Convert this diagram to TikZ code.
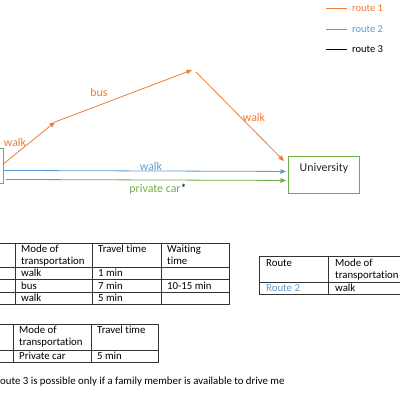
\documentclass[tikz,border=0pt]{standalone}
\usepackage{fontspec}
\setmainfont[Ligatures=NoCommon]{Carlito}
\usetikzlibrary{arrows.meta}
\definecolor{rone}{HTML}{ED7D31}
\definecolor{rtwo}{HTML}{5B9BD5}
\definecolor{cgreen}{HTML}{70AD47}
\begin{document}
\begin{tikzpicture}[x=1pt,y=-1pt,
  every node/.style={font=\fontsize{11.9}{14}\selectfont},
  place/.style={draw=cgreen,line width=0.9pt,minimum width=71pt,minimum height=37pt,anchor=north west},
  e/.style={-{Triangle[length=5.5pt,width=4.5pt]},line width=0.8pt},
  lbl/.style={inner sep=0pt},
  cell/.style={anchor=base west,inner sep=0pt,align=left,font=\fontsize{10.8}{12}\selectfont},
  tab/.style={draw=black!80,line width=0.6pt}]
 \useasboundingbox (0,0) rectangle (400,400);
 \clip (0,0) rectangle (400,400);
 % legend
 \foreach \n/\c/\y in {1/rone/8,2/rtwo/29,3/black/49} {
   \coordinate (ls\n) at (326,\y);
   \node[lbl,anchor=west,text=\c,font=\fontsize{10.5}{12}\selectfont] (lg\n) at (352,\y) {route \n};
   \draw[\c,line width=0.8pt] (ls\n) -- ([xshift=-5pt]lg\n.west);
 }
 % places
 \node[place,anchor=north east,minimum width=60pt,minimum height=35pt] (home) at (4,148) {};
 \node[place] (univ) at (288,156) {};
 \node[lbl,anchor=base,text=black!85] (univt) at ([yshift=-15pt]univ.north) {University};
 \coordinate (b1) at (55,122);
 \coordinate (b2) at (192,70);
 \draw[e,rone] ([shift={(0,-2.5)}]home.east) -- (b1);
 \draw[e,rone] (b1) -- (b2);
 \draw[e,rone] ([shift={(4,2)}]b2) -- ([shift={(-4,5)}]univ.north west);
 \draw[e,rtwo] ([shift={(0,4.5)}]home.east) -- ([shift={(-2,-3.5)}]univ.west);
 \draw[e,cgreen] ([shift={(2,13.5)}]home.east) -- ([shift={(-2,5.5)}]univ.west);
 \node[lbl,text=rone] (w1) at (15,142) {walk};
 \node[lbl,text=rone] (bus) at (99,92) {bus};
 \node[lbl,text=rone] (w2) at (254,117) {walk};
 \node[lbl,text=rtwo] (w3) at (151,166) {walk};
 \node[lbl,text=cgreen] (car) at (158,189) {private car\textcolor{black}{*}};
 % route 1 table
 \draw[tab] (-5,243) rectangle (229,304);
 \foreach \y in {267,279,292} \draw[tab] (-5,\y) -- (229,\y);
 \foreach \x in {15,92,161} \draw[tab] (\x,243) -- (\x,304);
 \node[cell] (ta1) at (21,264) {Mode of\\transportation};
 \node[cell] (ta2) at (98,252) {Travel time};
 \node[cell] (ta3) at (167,264) {Waiting\\time};
 \node[cell] (ta4) at (21,276) {walk};
 \node[cell] (ta5) at (98,276) {1 min};
 \node[cell] (ta6) at (21,289) {bus};
 \node[cell] (ta7) at (98,289) {7 min};
 \node[cell] (ta8) at (167,289) {10-15 min};
 \node[cell] (ta9) at (21,301) {walk};
 \node[cell] (ta10) at (98,301) {5 min};
 % route 2 table
 \draw[tab] (259,256) rectangle (420,294);
 \draw[tab] (259,282) -- (420,282);
 \draw[tab] (328,256) -- (328,294);
 \node[cell] (tb1) at (266,266) {Route};
 \node[cell] (tb2) at (335,278) {Mode of\\transportation};
 \node[cell,text=rtwo] (tb3) at (266,291) {Route 2};
 \node[cell] (tb4) at (335,291) {walk};
 % route 3 table
 \draw[tab] (-5,324) rectangle (158,362);
 \draw[tab] (-5,350) -- (158,350);
 \foreach \x in {13,91} \draw[tab] (\x,324) -- (\x,362);
 \node[cell] (tc1) at (19,345) {Mode of\\transportation};
 \node[cell] (tc2) at (97,333) {Travel time};
 \node[cell] (tc3) at (19,359) {Private car};
 \node[cell] (tc4) at (97,359) {5 min};
 \node[cell] (note) at (0,384) {oute 3 is possible only if a family member is available to drive me};
\end{tikzpicture}
\end{document}
